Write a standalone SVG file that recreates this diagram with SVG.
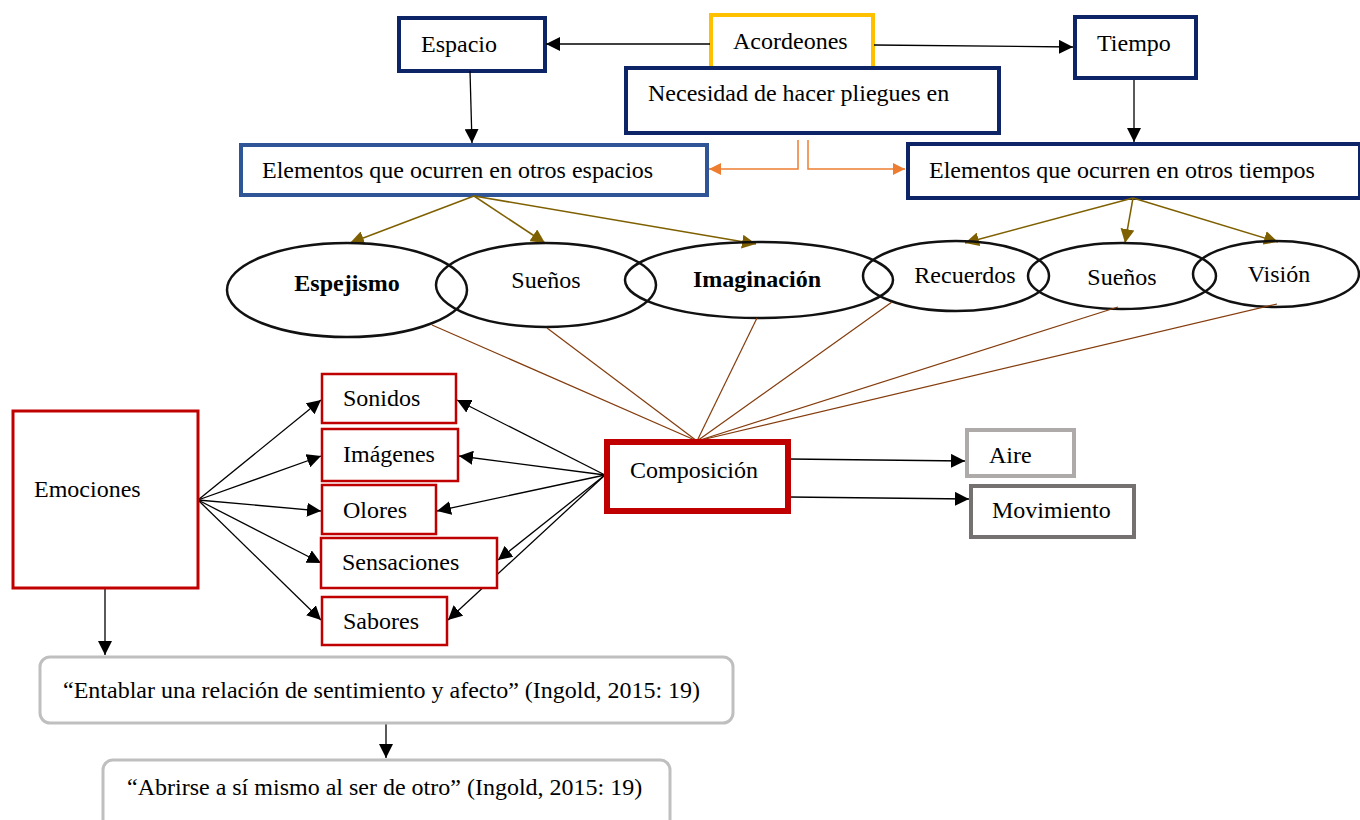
<svg xmlns="http://www.w3.org/2000/svg" width="1360" height="820" viewBox="0 0 1360 820">
<defs>
<marker id="ab" viewBox="0 0 12 12" refX="12" refY="6" markerWidth="14" markerHeight="14" markerUnits="userSpaceOnUse" orient="auto"><path d="M0,0 L12,6 L0,12 Z" fill="#000"/></marker>
<marker id="ao" viewBox="0 0 12 12" refX="12" refY="6" markerWidth="14" markerHeight="14" markerUnits="userSpaceOnUse" orient="auto"><path d="M0,0 L12,6 L0,12 Z" fill="#7f6000"/></marker>
<marker id="ar" viewBox="0 0 12 12" refX="12" refY="6" markerWidth="12" markerHeight="12" markerUnits="userSpaceOnUse" orient="auto"><path d="M0,0 L12,6 L0,12 Z" fill="#ed7d31"/></marker>
</defs>
<style>
text{font-family:"Liberation Serif","Times New Roman",serif;font-size:24px;fill:#000}
.b{font-weight:bold}
.m{text-anchor:middle}
.nv{fill:#fff;stroke:#0d2566;stroke-width:4}
.rd{fill:#fff;stroke:#c00000;stroke-width:2.5}
.el{fill:none;stroke:#111;stroke-width:2.5}
.cb{stroke:#000;stroke-width:1.3;fill:none}
.co{stroke:#7f6000;stroke-width:1.5;fill:none}
.cr{stroke:#843c0c;stroke-width:1.2;fill:none}
.or{stroke:#ed7d31;stroke-width:1.5;fill:none}
.q{fill:#fff;stroke:#bfbfbf;stroke-width:3}
</style>
<rect width="1360" height="820" fill="#fff"/>
<g id="acordeones"><rect x="711" y="15" width="162" height="61" fill="#fff" stroke="#ffc000" stroke-width="4"/><text x="733" y="49">Acordeones</text></g>
<g id="espacio"><rect x="399" y="18" width="146" height="53" class="nv"/><text x="421" y="52">Espacio</text></g>
<g id="tiempo"><rect x="1075" y="17" width="121" height="61" class="nv"/><text x="1097" y="51">Tiempo</text></g>
<g id="necesidad"><rect x="626" y="68" width="373" height="65" class="nv"/><text x="648" y="101">Necesidad de hacer pliegues en</text></g>
<g id="elem-espacios"><rect x="241" y="145" width="466" height="50" fill="#fff" stroke="#2f5597" stroke-width="4"/><text x="262" y="178">Elementos que ocurren en otros espacios</text></g>
<g id="elem-tiempos"><rect x="908" y="144" width="452" height="54" class="nv"/><text x="929" y="178">Elementos que ocurren en otros tiempos</text></g>

<g id="connectors-top">
<line x1="710" y1="44" x2="546" y2="44" class="cb" marker-end="url(#ab)"/>
<line x1="874" y1="45" x2="1073" y2="47" class="cb" marker-end="url(#ab)"/>
<line x1="470" y1="71" x2="472" y2="143" class="cb" marker-end="url(#ab)"/>
<line x1="1134" y1="80" x2="1134" y2="142" class="cb" marker-end="url(#ab)"/>
<polyline points="798,140 798,169 709,169" class="or" marker-end="url(#ar)"/>
<polyline points="808,140 808,169 905,169" class="or" marker-end="url(#ar)"/>
<line x1="474" y1="196" x2="350" y2="243" class="co" marker-end="url(#ao)"/>
<line x1="474" y1="196" x2="545" y2="243" class="co" marker-end="url(#ao)"/>
<line x1="474" y1="196" x2="756" y2="244" class="co" marker-end="url(#ao)"/>
<line x1="1133" y1="198" x2="965" y2="243" class="co" marker-end="url(#ao)"/>
<line x1="1133" y1="198" x2="1125" y2="243" class="co" marker-end="url(#ao)"/>
<line x1="1133" y1="198" x2="1278" y2="242" class="co" marker-end="url(#ao)"/>
</g>

<g id="espejismo"><ellipse cx="347" cy="290" rx="120" ry="47" class="el"/><text x="347" y="291" class="m b">Espejismo</text></g>
<g id="suenos1"><ellipse cx="546" cy="285" rx="110" ry="42" class="el"/><text x="546" y="288" class="m">Sueños</text></g>
<g id="imaginacion"><ellipse cx="759" cy="280" rx="134" ry="38" class="el"/><text x="757" y="287" class="m b">Imaginación</text></g>
<g id="recuerdos"><ellipse cx="956" cy="276" rx="93" ry="35" class="el" stroke="#222a35"/><text x="965" y="283" class="m">Recuerdos</text></g>
<g id="suenos2"><ellipse cx="1122" cy="276" rx="94" ry="33" class="el"/><text x="1122" y="285" class="m">Sueños</text></g>
<g id="vision"><ellipse cx="1276" cy="274" rx="83" ry="33" class="el"/><text x="1279" y="282" class="m">Visión</text></g>

<g id="connectors-comp">
<line x1="697" y1="441" x2="432" y2="325" class="cr"/>
<line x1="697" y1="441" x2="547" y2="328" class="cr"/>
<line x1="697" y1="441" x2="757" y2="318" class="cr"/>
<line x1="697" y1="441" x2="892" y2="302" class="cr"/>
<line x1="697" y1="441" x2="1118" y2="307" class="cr"/>
<line x1="697" y1="441" x2="1277" y2="304" class="cr"/>
<line x1="789" y1="459" x2="965" y2="461" class="cb" marker-end="url(#ab)"/>
<line x1="789" y1="497" x2="969" y2="499" class="cb" marker-end="url(#ab)"/>
<line x1="198" y1="500" x2="321" y2="400" class="cb" marker-end="url(#ab)"/>
<line x1="198" y1="500" x2="321" y2="456" class="cb" marker-end="url(#ab)"/>
<line x1="198" y1="500" x2="321" y2="511" class="cb" marker-end="url(#ab)"/>
<line x1="198" y1="500" x2="321" y2="563" class="cb" marker-end="url(#ab)"/>
<line x1="198" y1="500" x2="321" y2="620" class="cb" marker-end="url(#ab)"/>
<line x1="605" y1="475" x2="457" y2="400" class="cb" marker-end="url(#ab)"/>
<line x1="605" y1="475" x2="459" y2="456" class="cb" marker-end="url(#ab)"/>
<line x1="605" y1="475" x2="437" y2="511" class="cb" marker-end="url(#ab)"/>
<line x1="605" y1="475" x2="498" y2="560" class="cb" marker-end="url(#ab)"/>
<line x1="605" y1="475" x2="448" y2="620" class="cb" marker-end="url(#ab)"/>
<line x1="105" y1="588" x2="105" y2="655" class="cb" marker-end="url(#ab)"/>
<line x1="386" y1="724" x2="386" y2="758" class="cb" marker-end="url(#ab)"/>
</g>

<g id="composicion"><rect x="607" y="442" width="181" height="69" fill="#fff" stroke="#c00000" stroke-width="6"/><text x="630" y="478">Composición</text></g>
<g id="aire"><rect x="967" y="430" width="107" height="46" fill="#fff" stroke="#aeaaaa" stroke-width="4"/><text x="989" y="463">Aire</text></g>
<g id="movimiento"><rect x="971" y="486" width="163" height="51" fill="#fff" stroke="#767171" stroke-width="4"/><text x="992" y="518">Movimiento</text></g>
<g id="emociones"><rect x="13" y="411" width="185" height="177" fill="#fff" stroke="#c00000" stroke-width="3"/><text x="34" y="497">Emociones</text></g>
<g id="sonidos"><rect x="322" y="374" width="134" height="49" class="rd"/><text x="343" y="406">Sonidos</text></g>
<g id="imagenes"><rect x="322" y="429" width="136" height="52" class="rd"/><text x="343" y="462">Imágenes</text></g>
<g id="olores"><rect x="322" y="485" width="114" height="49" class="rd"/><text x="343" y="518">Olores</text></g>
<g id="sensaciones"><rect x="321" y="538" width="176" height="50" class="rd"/><text x="342" y="570">Sensaciones</text></g>
<g id="sabores"><rect x="322" y="597" width="125" height="48" class="rd"/><text x="343" y="629">Sabores</text></g>
<g id="quote1"><rect x="40" y="657" width="693" height="66" rx="10" class="q"/><text x="63" y="698">“Entablar una relación de sentimiento y afecto” (Ingold, 2015: 19)</text></g>
<g id="quote2"><rect x="103" y="760" width="567" height="70" rx="10" class="q"/><text x="127" y="795">“Abrirse a sí mismo al ser de otro” (Ingold, 2015: 19)</text></g>
</svg>
